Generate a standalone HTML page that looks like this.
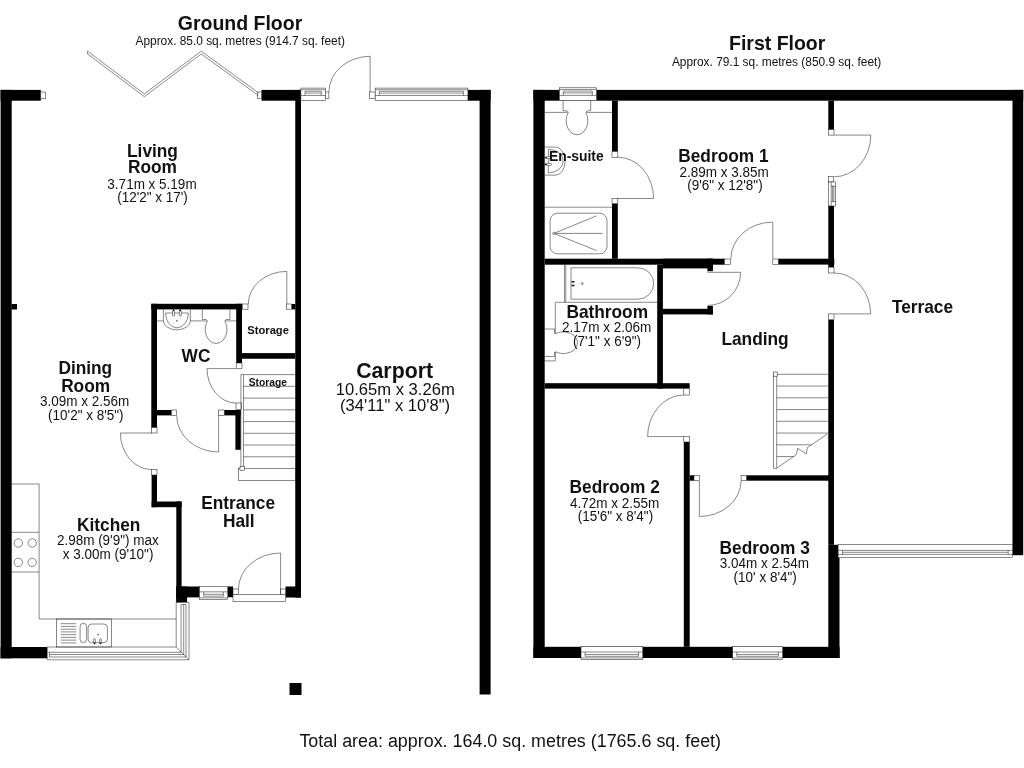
<!DOCTYPE html>
<html lang="en"><head><meta charset="utf-8"><title>Floor plan</title>
<style>
html,body{margin:0;padding:0;background:#fff;}
body{width:1024px;height:768px;overflow:hidden;}
svg{display:block;opacity:0.999;will-change:transform;}
svg text{font-family:"Liberation Sans",Arial,Helvetica,sans-serif;fill:#111;}
</style></head><body>
<svg width="1024" height="768" viewBox="0 0 1024 768">
<rect width="1024" height="768" fill="#fff"/>
<g fill="#000" stroke="none">
<rect x="0.60" y="89.90" width="11.10" height="568.40"/>
<rect x="0.60" y="89.90" width="40.20" height="10.80"/>
<rect x="11.50" y="304.00" width="5.50" height="5.50"/>
<rect x="0.60" y="647.00" width="46.70" height="11.30"/>
<rect x="261.50" y="89.90" width="39.50" height="10.80"/>
<rect x="295.25" y="89.90" width="5.75" height="507.70"/>
<rect x="467.90" y="89.90" width="22.70" height="10.80"/>
<rect x="479.60" y="89.90" width="11.00" height="604.60"/>
<rect x="289.50" y="683.00" width="12.00" height="12.00"/>
<rect x="151.30" y="303.80" width="90.90" height="5.60"/>
<rect x="151.30" y="303.80" width="5.70" height="123.90"/>
<rect x="236.20" y="303.80" width="5.80" height="59.20"/>
<rect x="242.00" y="353.10" width="53.25" height="5.65"/>
<rect x="291.50" y="304.00" width="3.75" height="5.40"/>
<rect x="157.00" y="410.00" width="14.50" height="5.40"/>
<rect x="224.20" y="410.00" width="16.50" height="5.40"/>
<rect x="235.40" y="410.00" width="5.30" height="39.80"/>
<rect x="151.60" y="475.00" width="5.40" height="32.20"/>
<rect x="151.60" y="501.50" width="30.00" height="5.70"/>
<rect x="176.30" y="501.50" width="5.30" height="100.90"/>
<rect x="176.30" y="586.50" width="23.30" height="10.90"/>
<rect x="176.30" y="586.50" width="10.80" height="15.90"/>
<rect x="227.70" y="586.50" width="5.30" height="10.70"/>
<rect x="285.50" y="586.50" width="15.30" height="11.00"/>
<rect x="533.40" y="89.90" width="11.30" height="568.10"/>
<rect x="533.40" y="89.90" width="489.80" height="10.80"/>
<rect x="1012.50" y="89.90" width="10.70" height="465.30"/>
<rect x="533.40" y="646.80" width="306.20" height="11.20"/>
<rect x="828.30" y="544.80" width="11.20" height="113.20"/>
<rect x="612.00" y="100.70" width="5.80" height="50.90"/>
<rect x="612.00" y="203.60" width="5.80" height="55.10"/>
<rect x="544.70" y="258.70" width="179.90" height="6.00"/>
<rect x="662.90" y="258.70" width="50.00" height="9.70"/>
<rect x="707.40" y="258.70" width="5.50" height="12.50"/>
<rect x="657.20" y="264.70" width="5.70" height="123.90"/>
<rect x="662.90" y="308.80" width="50.00" height="5.60"/>
<rect x="707.40" y="305.90" width="5.50" height="8.50"/>
<rect x="778.20" y="258.70" width="56.10" height="5.90"/>
<rect x="828.30" y="100.70" width="5.70" height="29.00"/>
<rect x="828.30" y="206.00" width="5.70" height="61.20"/>
<rect x="828.30" y="319.70" width="5.70" height="225.10"/>
<rect x="544.70" y="383.20" width="145.00" height="5.40"/>
<rect x="683.80" y="442.00" width="5.90" height="204.80"/>
<rect x="689.70" y="475.30" width="4.30" height="5.40"/>
<rect x="746.40" y="475.30" width="87.10" height="5.40"/>
</g>
<g fill="none" stroke="#262626" stroke-width="0.55">
<rect x="40.80" y="92.00" width="4.60" height="6.80" fill="#fff"/>
<rect x="257.25" y="92.00" width="4.25" height="6.50" fill="#fff"/>
<rect x="325.60" y="92.00" width="3.30" height="6.30" fill="#fff"/>
<rect x="369.60" y="92.00" width="5.60" height="6.30" fill="#fff"/>
<rect x="242.30" y="304.00" width="5.70" height="5.20" fill="#fff"/>
<rect x="286.40" y="304.00" width="5.10" height="5.20" fill="#fff"/>
<rect x="236.20" y="363.00" width="5.80" height="5.50" fill="#fff"/>
<rect x="236.00" y="403.00" width="5.40" height="6.60" fill="#fff"/>
<rect x="171.50" y="410.00" width="5.20" height="5.40" fill="#fff"/>
<rect x="218.60" y="410.00" width="5.60" height="5.40" fill="#fff"/>
<rect x="151.60" y="427.70" width="5.40" height="5.30" fill="#fff"/>
<rect x="151.60" y="469.60" width="5.40" height="5.40" fill="#fff"/>
<rect x="233.00" y="589.00" width="5.50" height="5.50" fill="#fff"/>
<rect x="280.60" y="589.00" width="4.90" height="5.50" fill="#fff"/>
<path d="M87.50 51.12 L144.30 93.92 L201.20 51.12 L258.40 92.83"/>
<path d="M87.50 53.88 L144.30 96.67 L201.20 53.88 L258.40 95.58"/>
<path d="M87.50 51.12 L87.50 53.88"/>
<path d="M370.10 92.00 L370.10 56.30 A41.20 35.70 0 0 0 328.90 92.00"/>
<path d="M286.80 304.00 L286.80 271.40 A38.50 32.60 0 0 0 248.30 304.00"/>
<path d="M236.00 368.60 L207.00 368.60 A29.00 34.40 0 0 0 236.00 403.00"/>
<path d="M218.60 415.40 L218.60 452.00 A41.90 36.60 0 0 1 176.70 415.40"/>
<path d="M151.60 433.00 L120.40 433.00 A31.20 36.60 0 0 0 151.60 469.60"/>
<path d="M280.60 594.50 L280.60 553.00 A42.10 36.00 0 0 0 238.50 589.00"/>
<rect x="233.00" y="594.50" width="52.50" height="7.20" fill="#fff"/>
<rect x="300.90" y="88.10" width="24.70" height="12.60" fill="#fff"/>
<path d="M300.90 89.74 L325.60 89.74"/>
<path d="M300.90 95.53 L325.60 95.53"/>
<path d="M305.00 91.31 L321.30 91.31"/>
<path d="M305.00 93.14 L321.30 93.14"/>
<path d="M305.00 91.31 L305.00 95.53"/>
<path d="M321.30 91.31 L321.30 95.53"/>
<rect x="375.20" y="88.10" width="92.70" height="12.60" fill="#fff"/>
<path d="M375.20 89.74 L467.90 89.74"/>
<path d="M375.20 95.53 L467.90 95.53"/>
<path d="M379.30 91.31 L463.60 91.31"/>
<path d="M379.30 93.14 L463.60 93.14"/>
<path d="M379.30 91.31 L379.30 95.53"/>
<path d="M463.60 91.31 L463.60 95.53"/>
<rect x="199.60" y="586.50" width="28.10" height="13.00" fill="#fff"/>
<path d="M199.60 597.81 L227.70 597.81"/>
<path d="M199.60 591.83 L227.70 591.83"/>
<path d="M203.70 596.18 L223.40 596.18"/>
<path d="M203.70 594.30 L223.40 594.30"/>
<path d="M203.70 596.18 L203.70 591.83"/>
<path d="M223.40 596.18 L223.40 591.83"/>
<path d="M176.2 602.4 L189 602.4 L189 659.8 L47.3 659.8 L47.3 647 L176.2 647 Z" fill="#fff"/>
<path d="M181.10 604.50 L181.10 652.30 L47.30 652.30"/>
<path d="M183.70 604.50 L183.70 654.50 L49.50 654.50"/>
<path d="M186.00 604.50 L186.00 657.00 L49.50 657.00"/>
<path d="M176.20 647.00 L189.00 659.80"/>
<path d="M181.10 604.50 L186.00 604.50"/>
<path d="M49.50 652.30 L49.50 657.00"/>
<path d="M11.50 484.00 L39.10 484.00 L39.10 619.00 L176.20 619.00"/>
<path d="M11.50 532.30 L39.10 532.30"/>
<path d="M11.50 572.00 L39.10 572.00"/>
<circle cx="18.3" cy="543" r="4.2"/>
<circle cx="32.2" cy="543" r="4.2"/>
<circle cx="18.3" cy="562.4" r="4.2"/>
<circle cx="32.2" cy="562.4" r="4.2"/>
<rect x="56.30" y="619.00" width="55.40" height="28.00" fill="none"/>
<path d="M60.80 623.70 L76.30 623.70"/>
<path d="M60.80 626.44 L76.30 626.44"/>
<path d="M60.80 629.18 L76.30 629.18"/>
<path d="M60.80 631.92 L76.30 631.92"/>
<path d="M60.80 634.66 L76.30 634.66"/>
<path d="M60.80 637.40 L76.30 637.40"/>
<path d="M60.80 640.14 L76.30 640.14"/>
<path d="M60.80 642.88 L76.30 642.88"/>
<rect x="80.1" y="623.3" width="6.5" height="19.3" rx="3.2" ry="3.2"/>
<rect x="88.1" y="624" width="19.3" height="18.6" rx="3.5" ry="3.5"/>
<circle cx="98.2" cy="634.5" r="0.6"/>
<rect x="93.6" y="638.6" width="1.8" height="4.4" rx="0.9" fill="#fff"/>
<circle cx="94.5" cy="643.4" r="0.9" fill="#000" stroke="none"/>
<rect x="99.6" y="638.6" width="1.8" height="4.4" rx="0.9" fill="#fff"/>
<circle cx="100.5" cy="643.4" r="0.9" fill="#000" stroke="none"/>
<path d="M243.50 374.60 L295.25 374.60"/>
<path d="M240.90 374.60 L240.90 468.52"/>
<path d="M243.50 374.60 L243.50 468.52"/>
<path d="M240.90 374.60 L243.50 374.60"/>
<path d="M243.50 386.34 L295.25 386.34"/>
<path d="M243.50 398.08 L295.25 398.08"/>
<path d="M243.50 409.82 L295.25 409.82"/>
<path d="M243.50 421.56 L295.25 421.56"/>
<path d="M243.50 433.30 L295.25 433.30"/>
<path d="M243.50 445.04 L295.25 445.04"/>
<path d="M243.50 456.78 L295.25 456.78"/>
<rect x="238.60" y="468.52" width="56.65" height="11.74" fill="none"/>
<rect x="240.00" y="466.60" width="4.40" height="4.00" fill="#fff"/>
<path d="M157.00 320.90 L163.40 320.90"/>
<path d="M190.30 320.90 L206.70 320.90"/>
<path d="M225.50 320.90 L236.20 320.90"/>
<path d="M163.40 309.40 L163.40 320.90"/>
<path d="M190.30 309.40 L190.30 320.90"/>
<path d="M202.30 309.40 L202.30 319.50 L206.20 319.50 L207.40 320.90"/>
<path d="M229.90 309.40 L229.90 319.50 L226.00 319.50 L224.80 320.90"/>
<path d="M207.4 320.9 A10.9 14.1 0 1 0 224.8 320.9" />
<path d="M163.4 320.9 A13.45 8.9 0 0 0 190.3 320.9" />
<path d="M165.5 313 L188.4 313 A11.45 14.8 0 0 1 165.5 313 Z" />
<rect x="172.5" y="310.6" width="2" height="5.6" rx="1" fill="#fff"/>
<circle cx="173.5" cy="310.3" r="0.9" fill="#000" stroke="none"/>
<rect x="179.3" y="310.6" width="2" height="5.6" rx="1" fill="#fff"/>
<circle cx="180.3" cy="310.3" r="0.9" fill="#000" stroke="none"/>
<circle cx="176.9" cy="320.8" r="0.6"/>
<rect x="612.00" y="151.60" width="5.80" height="5.80" fill="#fff"/>
<rect x="612.00" y="198.50" width="5.80" height="5.10" fill="#fff"/>
<rect x="828.30" y="129.70" width="5.70" height="5.40" fill="#fff"/>
<rect x="828.50" y="176.30" width="5.00" height="5.70" fill="#fff"/>
<rect x="724.60" y="259.00" width="5.90" height="5.60" fill="#fff"/>
<rect x="772.80" y="259.00" width="5.40" height="5.60" fill="#fff"/>
<rect x="828.30" y="267.20" width="5.70" height="5.80" fill="#fff"/>
<rect x="828.30" y="313.90" width="5.70" height="5.80" fill="#fff"/>
<rect x="683.80" y="388.60" width="5.90" height="6.40" fill="#fff"/>
<rect x="683.80" y="436.60" width="5.90" height="5.40" fill="#fff"/>
<rect x="694.00" y="475.30" width="5.40" height="5.40" fill="#fff"/>
<rect x="741.10" y="475.30" width="5.30" height="5.40" fill="#fff"/>
<path d="M617.80 198.50 L653.60 198.50 A35.80 41.30 0 0 0 617.80 157.20"/>
<path d="M834.30 135.10 L870.80 135.10 A36.50 41.70 0 0 1 834.30 176.80"/>
<path d="M772.80 258.70 L772.80 222.10 A41.90 36.60 0 0 0 730.90 258.70"/>
<path d="M834.30 313.90 L870.60 313.90 A36.30 40.90 0 0 0 834.30 273.00"/>
<path d="M707.20 272.30 L740.60 272.30 A32.80 33.10 0 0 1 707.80 305.40"/>
<path d="M683.80 436.60 L647.60 436.60 A36.20 41.60 0 0 1 683.80 395.00"/>
<path d="M699.40 480.70 L699.40 516.50 A41.70 35.80 0 0 0 741.10 480.70"/>
<rect x="559.30" y="87.80" width="37.30" height="12.90" fill="#fff"/>
<path d="M559.30 89.48 L596.60 89.48"/>
<path d="M559.30 95.41 L596.60 95.41"/>
<path d="M563.40 91.09 L592.30 91.09"/>
<path d="M563.40 92.96 L592.30 92.96"/>
<path d="M563.40 91.09 L563.40 95.41"/>
<path d="M592.30 91.09 L592.30 95.41"/>
<rect x="581.00" y="646.70" width="61.80" height="12.90" fill="#fff"/>
<path d="M581.00 657.92 L642.80 657.92"/>
<path d="M581.00 651.99 L642.80 651.99"/>
<path d="M585.10 656.31 L638.50 656.31"/>
<path d="M585.10 654.44 L638.50 654.44"/>
<path d="M585.10 656.31 L585.10 651.99"/>
<path d="M638.50 656.31 L638.50 651.99"/>
<rect x="732.70" y="646.70" width="50.00" height="12.90" fill="#fff"/>
<path d="M732.70 657.92 L782.70 657.92"/>
<path d="M732.70 651.99 L782.70 651.99"/>
<path d="M736.80 656.31 L778.40 656.31"/>
<path d="M736.80 654.44 L778.40 654.44"/>
<path d="M736.80 656.31 L736.80 651.99"/>
<path d="M778.40 656.31 L778.40 651.99"/>
<rect x="828.50" y="182.00" width="7.20" height="24.00" fill="#fff"/>
<path d="M831.20 182.00 L831.20 206.00"/>
<path d="M832.60 186.10 L832.60 201.60"/>
<path d="M833.80 186.10 L833.80 201.60"/>
<path d="M831.20 186.10 L835.70 186.10"/>
<path d="M831.20 201.60 L835.70 201.60"/>
<rect x="838.10" y="544.40" width="174.40" height="13.20" fill="#fff"/>
<path d="M838.10 550.40 L1012.50 550.40"/>
<path d="M842.50 552.30 L1008.20 552.30"/>
<path d="M838.10 554.40 L1012.50 554.40"/>
<path d="M842.50 550.40 L842.50 554.40"/>
<path d="M1008.20 550.40 L1008.20 554.40"/>
<path d="M773.50 374.30 L773.50 468.40 L776.70 468.40"/>
<path d="M776.70 374.30 L776.70 468.40"/>
<path d="M776.70 374.30 L827.70 374.30"/>
<path d="M776.70 386.05 L827.70 386.05"/>
<path d="M776.70 397.80 L827.70 397.80"/>
<path d="M776.70 409.55 L827.70 409.55"/>
<path d="M776.70 421.30 L827.70 421.30"/>
<path d="M776.70 433.05 L827.70 433.05"/>
<path d="M776.70 444.80 L811.50 444.80"/>
<path d="M776.70 456.55 L794.30 456.55"/>
<path d="M827.70 433.80 L807.40 447.60 L806.20 453.80 L797.60 448.20 L796.40 454.60 L776.70 468.20"/>
<rect x="773.50" y="372.00" width="3.70" height="4.20" fill="#fff"/>
<path d="M544.70 112.40 L567.60 112.40"/>
<path d="M586.40 112.40 L612.00 112.40"/>
<path d="M563.10 100.70 L563.10 110.80 L567.00 110.80 L568.30 112.20"/>
<path d="M590.70 100.70 L590.70 110.80 L587.00 110.80 L585.70 112.20"/>
<path d="M568.3 112.2 A10.9 14.1 0 1 0 585.7 112.2" />
<path d="M544.70 147.10 L555.70 147.10"/>
<path d="M544.70 175.10 L555.70 175.10"/>
<path d="M555.7 147.1 A9.4 14 0 0 1 555.7 175.1" />
<path d="M548.4 149.3 L548.4 172.9 A14.8 11.8 0 0 0 548.4 149.3 Z" />
<rect x="546" y="156.6" width="5.6" height="2" rx="1" fill="#fff"/>
<circle cx="545.8" cy="157.6" r="0.9" fill="#000" stroke="none"/>
<rect x="546" y="163.4" width="5.6" height="2" rx="1" fill="#fff"/>
<circle cx="545.8" cy="164.4" r="0.9" fill="#000" stroke="none"/>
<path d="M544.70 207.20 L612.00 207.20"/>
<rect x="550.1" y="213.2" width="56.9" height="40.6" rx="7.5" ry="7.5"/>
<circle cx="553.7" cy="233.4" r="1.1"/>
<path d="M554.80 233.00 L596.70 215.80"/>
<path d="M554.80 233.40 L602.70 233.40"/>
<path d="M554.80 233.80 L596.70 250.60"/>
<path d="M564.50 264.70 L564.50 302.30"/>
<path d="M555.60 302.30 L657.20 302.30"/>
<path d="M565.80 264.70 L565.80 302.30"/>
<path d="M571 267.8 L638 267.8 A15.7 15.7 0 0 1 638 299.2 L571 299.2 Z" />
<circle cx="582.3" cy="283.5" r="1"/>
<rect x="571.5" y="281.0" width="3" height="1.6" fill="#222" stroke="none"/>
<rect x="571.5" y="284.7" width="3" height="1.6" fill="#222" stroke="none"/>
<path d="M544.70 329.00 L554.60 329.00 L554.60 333.40 L556.10 333.40"/>
<path d="M556.1 333.4 A14.1 10.9 0 1 1 556.1 352" />
<path d="M556.10 352.00 L554.60 352.00 L554.60 356.50 L544.70 356.50"/>
<path d="M555.30 302.30 L555.30 333.40"/>
<path d="M555.30 352.00 L555.30 360.90 L544.70 360.90"/>
</g>
<g>
<text transform="translate(240.00 30.00) scale(1.0000 1.0400)" font-size="19.5" font-weight="700" text-anchor="middle">Ground Floor</text>
<text transform="translate(240.20 45.20) scale(1.0000 1.0400)" font-size="11.9" text-anchor="middle">Approx. 85.0 sq. metres (914.7 sq. feet)</text>
<text transform="translate(777.20 49.70) scale(1.0000 1.0400)" font-size="19.5" font-weight="700" text-anchor="middle">First Floor</text>
<text transform="translate(776.60 65.70) scale(1.0000 1.0400)" font-size="11.9" text-anchor="middle">Approx. 79.1 sq. metres (850.9 sq. feet)</text>
<text transform="translate(152.50 156.70) scale(1.0000 1.0400)" font-size="17.3" font-weight="700" text-anchor="middle">Living</text>
<text transform="translate(152.50 173.20) scale(1.0000 1.0400)" font-size="17.3" font-weight="700" text-anchor="middle">Room</text>
<text transform="translate(152.00 188.70) scale(1.0000 1.0400)" font-size="13.5" text-anchor="middle">3.71m x 5.19m</text>
<text transform="translate(152.50 202.40) scale(1.0000 1.0400)" font-size="13.5" text-anchor="middle">(12'2&quot; x 17')</text>
<text transform="translate(85.30 374.10) scale(1.0000 1.0400)" font-size="17.3" font-weight="700" text-anchor="middle">Dining</text>
<text transform="translate(85.60 391.60) scale(1.0000 1.0400)" font-size="17.3" font-weight="700" text-anchor="middle">Room</text>
<text transform="translate(84.70 405.90) scale(1.0000 1.0400)" font-size="13.5" text-anchor="middle">3.09m x 2.56m</text>
<text transform="translate(85.80 419.80) scale(1.0000 1.0400)" font-size="13.5" text-anchor="middle">(10'2&quot; x 8'5&quot;)</text>
<text transform="translate(108.70 530.70) scale(1.0000 1.0400)" font-size="17.3" font-weight="700" text-anchor="middle">Kitchen</text>
<text transform="translate(107.80 544.70) scale(1.0000 1.0400)" font-size="13.5" text-anchor="middle">2.98m (9'9&quot;) max</text>
<text transform="translate(108.10 558.70) scale(1.0000 1.0400)" font-size="13.5" text-anchor="middle">x 3.00m (9'10&quot;)</text>
<text transform="translate(196.00 361.80) scale(1.0000 1.0400)" font-size="17.3" font-weight="700" text-anchor="middle">WC</text>
<text transform="translate(268.10 334.10) scale(1.0000 1.0400)" font-size="11.2" font-weight="700" text-anchor="middle">Storage</text>
<text transform="translate(267.80 386.00) scale(1.0000 1.0400)" font-size="10.3" font-weight="700" text-anchor="middle">Storage</text>
<text transform="translate(238.10 508.70) scale(1.0000 1.0400)" font-size="17.3" font-weight="700" text-anchor="middle">Entrance</text>
<text transform="translate(238.80 526.50) scale(1.0000 1.0400)" font-size="17.3" font-weight="700" text-anchor="middle">Hall</text>
<text transform="translate(394.60 377.50) scale(1.0000 1.0400)" font-size="21.3" font-weight="700" text-anchor="middle">Carport</text>
<text transform="translate(395.20 394.60) scale(1.0000 1.0000)" font-size="16.6" text-anchor="middle">10.65m x 3.26m</text>
<text transform="translate(395.10 411.00) scale(1.0000 1.0000)" font-size="16.6" text-anchor="middle">(34'11&quot; x 10'8&quot;)</text>
<text transform="translate(723.40 161.70) scale(1.0000 1.0400)" font-size="17.3" font-weight="700" text-anchor="middle">Bedroom 1</text>
<text transform="translate(724.10 176.60) scale(1.0000 1.0400)" font-size="13.5" text-anchor="middle">2.89m x 3.85m</text>
<text transform="translate(724.90 189.60) scale(1.0000 1.0400)" font-size="13.5" text-anchor="middle">(9'6&quot; x 12'8&quot;)</text>
<text transform="translate(576.30 161.10) scale(1.0000 1.0400)" font-size="13.9" font-weight="700" text-anchor="middle">En-suite</text>
<text transform="translate(607.20 317.50) scale(1.0000 1.0400)" font-size="17.3" font-weight="700" text-anchor="middle">Bathroom</text>
<text transform="translate(606.70 331.70) scale(1.0000 1.0400)" font-size="13.5" text-anchor="middle">2.17m x 2.06m</text>
<text transform="translate(607.00 345.70) scale(1.0000 1.0400)" font-size="13.5" text-anchor="middle">(7'1&quot; x 6'9&quot;)</text>
<text transform="translate(755.00 345.30) scale(1.0000 1.0400)" font-size="17.3" font-weight="700" text-anchor="middle">Landing</text>
<text transform="translate(922.50 313.00) scale(1.0000 1.0400)" font-size="17.3" font-weight="700" text-anchor="middle">Terrace</text>
<text transform="translate(614.70 492.60) scale(1.0000 1.0400)" font-size="17.3" font-weight="700" text-anchor="middle">Bedroom 2</text>
<text transform="translate(614.60 507.50) scale(1.0000 1.0400)" font-size="13.5" text-anchor="middle">4.72m x 2.55m</text>
<text transform="translate(615.40 520.50) scale(1.0000 1.0400)" font-size="13.5" text-anchor="middle">(15'6&quot; x 8'4&quot;)</text>
<text transform="translate(764.70 553.70) scale(1.0000 1.0400)" font-size="17.3" font-weight="700" text-anchor="middle">Bedroom 3</text>
<text transform="translate(764.30 568.30) scale(1.0000 1.0400)" font-size="13.5" text-anchor="middle">3.04m x 2.54m</text>
<text transform="translate(765.20 582.30) scale(1.0000 1.0400)" font-size="13.5" text-anchor="middle">(10' x 8'4&quot;)</text>
<text transform="translate(510.20 746.60) scale(1.0000 1.0400)" font-size="17.9" text-anchor="middle">Total area: approx. 164.0 sq. metres (1765.6 sq. feet)</text>
</g>
</svg>
</body></html>
